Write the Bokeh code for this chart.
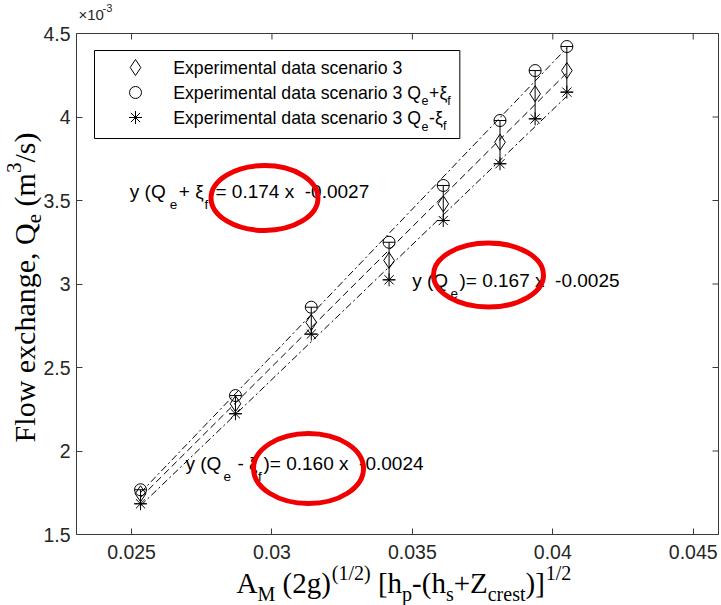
import numpy as np
from bokeh.plotting import figure
from bokeh.models import (Range1d, LinearAxis, Whisker, TeeHead,
                          ColumnDataSource, FixedTicker)
from bokeh.embed import file_html
from bokeh.resources import INLINE
from bokeh.core.properties import value

# ---------------- data (Q_e in 1e-3 m^3/s) ----------------
x_data = [0.02532, 0.02870, 0.03140, 0.03417, 0.03610, 0.03812, 0.03937, 0.04050]
qe_mid = [1.744, 2.283, 2.770, 3.141, 3.480, 3.849, 4.139, 4.278]
qe_plus = [1.768, 2.332, 2.861, 3.250, 3.590, 3.979, 4.278, 4.422]
qe_minus = [1.684, 2.223, 2.700, 3.025, 3.380, 3.720, 3.989, 4.149]

x_ticks = [0.025, 0.03, 0.035, 0.04, 0.045]
x_tick_labels = ["0.025", "0.03", "0.035", "0.04", "0.045"]
y_ticks = [1.5, 2.0, 2.5, 3.0, 3.5, 4.0, 4.5]
y_tick_labels = ["1.5", "2", "2.5", "3", "3.5", "4", "4.5"]

legend_base = "Experimental data scenario 3"
fit_slopes = ["0.174", "0.167", "0.160"]
fit_intercepts = ["-0.0027", "-0.0025", "-0.0024"]

# ---------------- geometry ----------------
W, H = 721, 605
L, R, T, B = 76, 718, 33, 534          # axes box in canvas pixels
X0, X1 = 0.02304, 0.0459               # axes limits
Y0, Y1 = 1.5, 4.5
AX = "#3a3a3a"
SX = (X1 - X0) / (R - L)
SY = (Y1 - Y0) / (B - T)
NB = "\u00a0"
KB = 0.34          # baseline correction (fraction of font size)


def X(px):
    return X0 + (px - L) * SX


def Y(py):
    return Y0 + (B - py) * SY


ARIAL = {' ': 278, NB: 278, 'E': 667, 'x': 500, 'p': 556, 'e': 556, 'r': 333, 'i': 222,
         'm': 833, 'n': 556, 't': 278, 'a': 556, 'l': 222, 'd': 556, 's': 500,
         'c': 500, 'o': 556, 'Q': 778, '+': 584, '-': 333, 'ξ': 450, 'f': 278,
         'y': 500, '(': 333, ')': 333, '=': 584, '.': 278}
for d in "0123456789":
    ARIAL[d] = 556
TIMES = {' ': 250, 'F': 556, 'l': 278, 'o': 500, 'w': 722, 'e': 444, 'x': 500,
         'c': 444, 'h': 500, 'a': 444, 'n': 500, 'g': 500, ',': 250, 'Q': 722,
         '(': 333, ')': 333, 'm': 778, '/': 278, 's': 389, 'A': 722, 'M': 889,
         '1': 500, '2': 500, '3': 500, '[': 333, ']': 333, 'p': 500, '-': 333,
         '+': 564, 'Z': 611, 'r': 333, 't': 278}


def tw(s, table, fs):
    return sum(table.get(c, 500) for c in s) * fs / 1000.0


# the frame spans the whole canvas; the axes box is drawn by fixed-location axes
p = figure(width=W, height=H, x_range=Range1d(X(0), X(W)), y_range=Range1d(Y(H), Y(0)),
           output_backend="svg", toolbar_location=None, title=None,
           x_axis_location=None, y_axis_location=None, min_border=0)
p.xgrid.visible = False
p.ygrid.visible = False
p.outline_line_color = None
p.background_fill_color = "white"
p.border_fill_color = "white"


def styled_axis(ticks, labels, loc, bounds, standoff):
    ax = LinearAxis(ticker=FixedTicker(ticks=ticks), fixed_location=loc, bounds=bounds,
                    major_tick_in=6, major_tick_out=0, minor_tick_line_color=None,
                    axis_line_color=AX, major_tick_line_color=AX,
                    major_label_text_font="Liberation Sans",
                    major_label_text_font_size="19.5px",
                    major_label_text_color="#262626",
                    major_label_standoff=standoff)
    ax.major_label_overrides = dict(zip(ticks, labels))
    return ax


p.add_layout(styled_axis(x_ticks, x_tick_labels, Y0, (X0, X1), 10), "below")
p.add_layout(styled_axis(y_ticks, y_tick_labels, X0, (Y0, Y1), 6), "left")
# top and right edges of the box (lines only) + inward tick marks
for loc, bnds, side in ((Y1, (X0, X1), "above"), (X1, (Y0, Y1), "right")):
    p.add_layout(LinearAxis(ticker=FixedTicker(ticks=[]), fixed_location=loc, bounds=bnds,
                            axis_line_color=AX, major_tick_line_color=None,
                            minor_tick_line_color=None), side)
p.ray(x=x_ticks, y=[Y1] * len(x_ticks), length=6, length_units="screen",
      angle=-np.pi / 2, line_color=AX, line_width=1)
p.ray(x=[X1] * len(y_ticks), y=y_ticks, length=6, length_units="screen",
      angle=np.pi, line_color=AX, line_width=1)

# ---------------- fit lines ----------------
xs_fit = np.array([min(x_data), max(x_data)])
for series, dash in ((qe_plus, "7 3 2 3"), (qe_mid, "7 4"), (qe_minus, "7 3 2 3")):
    k, b = np.polyfit(x_data, series, 1)
    p.line(xs_fit, k * xs_fit + b, line_color="black", line_width=1, line_dash=dash)

# ---------------- error bars + markers ----------------
src = ColumnDataSource(dict(x=x_data, mid=qe_mid, up=qe_plus, lo=qe_minus))
wh = Whisker(source=src, base="x", upper="up", lower="lo", line_color="black", line_width=1,
             upper_head=TeeHead(size=12, line_color="black", line_width=1),
             lower_head=TeeHead(size=12, line_color="black", line_width=1))
p.add_layout(wh)
p.scatter("x", "mid", source=src, marker="diamond", size=16, fill_color=None,
          line_color="black", line_width=1)
p.scatter("x", "up", source=src, marker="circle", size=12, fill_color=None,
          line_color="black", line_width=1)
p.scatter("x", "lo", source=src, marker="asterisk", size=13, fill_color=None,
          line_color="black", line_width=1)


def put_text(px, py, text, fs, font="Liberation Sans", color="black", angle=0.0):
    # (px, py) is the wanted baseline start in canvas pixels
    ax_ = px - KB * fs * np.sin(angle)
    ay_ = py - KB * fs * np.cos(angle)
    p.text(x=[X(ax_)], y=[Y(ay_)], text=[text], text_font=value(font),
           text_font_size=value("%.1fpx" % fs), text_color=color,
           text_baseline="alphabetic", text_align="left", angle=angle)


# ---------------- legend ----------------
LFS, LSUB = 17.7, 12.5
box_l, box_t, box_b = 94, 50, 138
text_x = 172.7
rows_y = [73.3, 98.3, 123.8]
ends = [text_x + tw(legend_base, ARIAL, LFS)]
legend_pieces = [(text_x, rows_y[0], legend_base, LFS)]
for row, sign in ((1, "+"), (2, "-")):
    by = rows_y[row]
    s0 = legend_base + " Q"
    cx = text_x
    legend_pieces.append((cx, by, s0, LFS))
    cx += tw(s0, ARIAL, LFS) + 0.5
    legend_pieces.append((cx, by + 6, "e", LSUB))
    cx += tw("e", ARIAL, LSUB) + 0.5
    legend_pieces.append((cx, by, sign + "ξ", LFS))
    cx += tw(sign + "ξ", ARIAL, LFS)
    legend_pieces.append((cx, by + 6, "f", LSUB))
    cx += tw("f", ARIAL, LSUB)
    ends.append(cx)
box_r = max(ends) + 9
p.quad(left=[X(box_l)], right=[X(box_r)], top=[Y(box_t)], bottom=[Y(box_b)],
       fill_color="white", line_color="black", line_width=1)
for px, py, txt, fs in legend_pieces:
    put_text(px, py, txt, fs)
mk_x = [X(135)]
p.scatter(mk_x, [Y(67)], marker="diamond", size=16, fill_color=None, line_color="black")
p.scatter(mk_x, [Y(92)], marker="circle", size=12, fill_color=None, line_color="black")
p.scatter(mk_x, [Y(117)], marker="asterisk", size=13, fill_color=None, line_color="black")

# ---------------- equation annotations ----------------
AFS, ASUB, ADY = 19.0, 13.5, 11
eq_pieces = [
    (197.3, [(129.3, "y (Q", "m"), (169.3, "e", "s"), (178.3, "+ ξ", "m"), (204.0, "f", "s"),
             (215.0, "= " + fit_slopes[0] + " x" + NB + NB + fit_intercepts[0], "m")]),
    (286.7, [(411.7, "y (Q", "m"), (450.0, "e", "s"),
             (459.0, ")= " + fit_slopes[1] + " x" + NB + NB + fit_intercepts[1], "m")]),
    (469.3, [(185.0, "y (Q", "m"), (223.0, "e", "s"), (237.0, "- ξ", "m"), (257.5, "f", "s"),
             (263.0, ")= " + fit_slopes[2] + " x" + NB + NB + fit_intercepts[2], "m")]),
]
for by, pieces in eq_pieces:
    for px, txt, kind in pieces:
        if kind == "m":
            put_text(px, by, txt, AFS)
        else:
            put_text(px, by + ADY, txt, ASUB)

# red highlight ellipses
for cx, cy, ew, eh in ((264, 197.5, 107, 65), (488, 274.5, 110, 64), (308, 468, 110, 70)):
    p.ellipse(x=[X(cx)], y=[Y(cy)], width=[ew], height=[eh], width_units="screen",
              height_units="screen", fill_color=None, line_color="#f00000", line_width=5)

# ---------------- x10^-3 multiplier ----------------
put_text(78, 19, "×10", 15, color="#262626")
put_text(102, 11, "-3", 11, color="#262626")

# ---------------- x axis label ----------------
XFS, XSUB = 29.0, 20.0
xl = [("A", "m"), ("M", "s"), (" (2g)", "m"), ("(1/2)", "u"), (" [h", "m"), ("p", "s"),
      ("-(h", "m"), ("s", "s"), ("+Z", "m"), ("crest", "s"), (")]", "m"), ("1/2", "u")]
cx, by = 236.0, 592.0
for txt, kind in xl:
    fs = XFS if kind == "m" else XSUB
    if txt.startswith(" "):
        cx += tw(" ", TIMES, fs)
        txt = txt[1:]
    if kind == "m":
        put_text(cx, by, txt, fs, font="Liberation Serif")
    elif kind == "s":
        put_text(cx, by + 8, txt, fs, font="Liberation Serif")
    else:
        cx += 1
        put_text(cx, by - 13, txt, fs, font="Liberation Serif")
    cx += tw(txt, TIMES, fs)

# ---------------- y axis label (rotated) ----------------
YFS, YSUB = 30.0, 21.0
yl = [("Flow exchange, Q", "m"), ("e", "s"), (" (m", "m"), ("3", "u"), ("/s)", "m")]
total = sum(tw(t, TIMES, YFS if k == "m" else YSUB) for t, k in yl)
cy = 287.0 + total / 2.0
bx = 34.0
for txt, kind in yl:
    fs = YFS if kind == "m" else YSUB
    if txt.startswith(" "):
        cy -= tw(" ", TIMES, fs)
        txt = txt[1:]
    if kind == "m":
        put_text(bx, cy, txt, fs, font="Liberation Serif", angle=np.pi / 2)
    elif kind == "s":
        put_text(bx + 7, cy, txt, fs, font="Liberation Serif", angle=np.pi / 2)
    else:
        put_text(bx - 13, cy, txt, fs, font="Liberation Serif", angle=np.pi / 2)
    cy -= tw(txt, TIMES, fs)

open("out.html", "w").write(file_html(p, INLINE))
